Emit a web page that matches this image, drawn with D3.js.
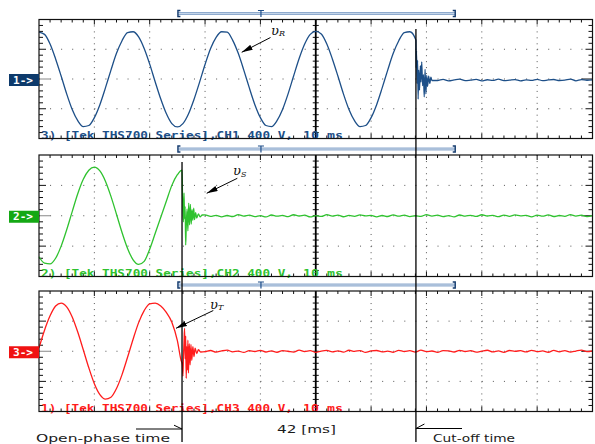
<!DOCTYPE html>
<meta charset="utf-8">
<head>
  <style>
    body { margin: 0; background: #fff; }
    svg { display: block; background: #fff; }
    .frame { fill: none; stroke: #111; stroke-width: 1.2px; }
    .tick { stroke: #111; stroke-width: 1px; }
    .dots { stroke: #555; stroke-width: 1px; fill: none; }
    .axis50 { stroke: #000; stroke-width: 1.8px; }
    .trace { fill: none; stroke-width: 1.3px; stroke-linejoin: round; }
    .scopeText { font-family: "DejaVu Sans Mono", monospace; font-weight: bold; font-size: 10.5px; }
    .note { font-family: "DejaVu Sans", sans-serif; font-size: 10.5px; fill: #1a1a1a; }
    .event { stroke: #000; stroke-width: 1.3px; }
  </style>
  <script src="https://cdn.jsdelivr.net/npm/d3@7"></script>
</head>
<body>
<script>
  var timeDomain = [0, 100];          // ms (10 ms/div)
  var voltDomain = [-800, 800];       // V  (400 V/div)
  var sampleMs = 1;

  var channelLabels = ["1->", "2->", "3->"];
  var channelNames = ["CH1", "CH2", "CH3"];
  var sourceTags = ["3)", "2)", "1)"];
  var phaseNames = ["R", "S", "T"];

  // R phase, t = 0..68 ms
  var waveR = [630, 600, 470, 270, 40, -200, -410, -560, -640, -625,
               -520, -345, -120, 120, 345, 515, 625, 635, 565, 410,
               200, -40, -270, -465, -600, -645, -600, -470, -275, -45,
               195, 410, 560, 635, 630, 520, 345, 120, -120, -345,
               -520, -625, -640, -560, -410, -200, 40, 275, 470, 600,
               640, 605, 470, 270, 40, -200, -410, -560, -640, -625,
               -520, -345, -120, 120, 345, 515, 625, 635, 540];
  var burstR = [[68.1, 520], [68.15, 150], [68.2, 380], [68.3, -60], [68.4, 250], [68.5, -270],
                [68.6, 120], [68.75, -150], [68.9, 180], [69.0, -40], [69.15, 230], [69.3, -90],
                [69.45, 60], [69.6, -240], [69.75, 130], [69.9, -200], [70.05, 50], [70.2, -100],
                [70.4, 40], [70.6, -60], [70.8, 25], [71.0, -20]];
  var flatStartR = 72;
  var noiseR = [-20, -5, -24, -12, -2, -22, -14, -6, -26, -10, -18, -3, -21, -15, -8,
                -25, -11, -19, -4, -23, -13, -7, -20, -16, -2, -24, -9, -17, -12];

  // S phase, t = 0..25 ms
  var waveS = [-540, -625, -635, -560, -400, -185, 55, 290, 480, 600,
               640, 590, 455, 255, 20, -220, -430, -580, -640, -600,
               -440, -230, -20, 190, 400, 540];
  var burstS = [[25.84, 600], [25.9, 380], [26.0, 60], [26.1, -80], [26.2, 300], [26.3, -40],
                [26.4, 120], [26.5, -386], [26.6, -150], [26.75, 90], [26.9, -200], [27.05, 167],
                [27.2, -120], [27.35, 150], [27.5, -110], [27.65, 80], [27.8, -60], [27.95, 100],
                [28.1, -50], [28.3, 40], [28.5, -30], [28.8, 25], [29.1, -15], [29.5, 10]];
  var flatStartS = 30;
  var noiseS = [12, -8, 6, -14, 3, -10, 15, -5, 8, -12, 2, -16, 10, -6, 4, -11, 13, -3, 7, -15,
                1, -9, 14, -4, 9, -13, 5, -7, 11, -2, 6, -14, 3, -10, 12, -6, 8, -12, 0, -8,
                15, -4, 7, -11, 2, -15, 10, -5, 6, -9, 13, -3, 4, -12, 9, -7, 11, -1, 5, -14,
                8, -6, 12, -10, 3, -8, 14, -4, 7, -11, 2];

  // T phase, t = 0..25 ms
  var waveT = [45, 280, 470, 600, 640, 590, 455, 255, 20, -220,
               -430, -575, -635, -610, -495, -310, -80, 160, 380, 540,
               630, 638, 600, 515, 385, 140];
  var burstT = [[25.65, -116], [25.9, -180], [26.0, -330], [26.1, -60], [26.2, 120], [26.3, 305],
                [26.4, -100], [26.5, 200], [26.6, -359], [26.7, 60], [26.8, -250], [26.9, 149],
                [27.0, -289], [27.15, 100], [27.3, -180], [27.45, 90], [27.6, -120], [27.8, 60],
                [28.0, -72], [28.2, 40], [28.5, -30], [28.8, 20], [29.2, -10]];
  var flatStartT = 30;
  var noiseT = [-6, 10, -12, 4, 14, -8, 2, -15, 9, -3, 12, -10, 5, -13, 8, 0, -11, 15, -5, 7,
                -14, 3, 11, -7, 6, -12, 13, -2, 9, -16, 4, 10, -9, 1, -13, 12, -4, 8, -11, 14,
                -6, 3, -15, 9, 5, -10, 11, -3, 7, -12, 2, 13, -8, 6, -14, 10, -1, 8, -9, 12,
                -5, 4, -13, 11, -7, 9, -11, 3, 14, -6, 5];

  // cursors and events (ms)
  var cursorBar = [25.1, 40.1, 75.2];     // [ left, T marker, right ]
  var openPhaseMs = 25.84;
  var cutOffMs = 68.1;
  var intervalLabel = "42 [ms]";

  // ---- layout ----
  var width = 595, height = 444;
  var panelBoxes = [{top: 19.5, h: 119}, {top: 155, h: 121.5}, {top: 291, h: 120.5}];
  var traceColors = ["#1d4f88", "#2fc22f", "#ff1c1c"];
  var boxColors = ["#0d3a6b", "#14a814", "#f01212"];

  function series(wave, burst, flatStart, noise) {
    return wave.map(function(v, i) { return [i * sampleMs, v]; })
      .concat(burst)
      .concat(noise.map(function(v, i) { return [flatStart + i * sampleMs, v]; }));
  }
  var traces = [
    series(waveR, burstR, flatStartR, noiseR),
    series(waveS, burstS, flatStartS, noiseS),
    series(waveT, burstT, flatStartT, noiseT)
  ];

  var svg = d3.select("body").append("svg").attr("width", width).attr("height", height);
  var defs = svg.append("defs");
  defs.append("marker").attr("id", "ah")
      .attr("viewBox", "0 0 12 6").attr("refX", 12).attr("refY", 3)
      .attr("markerWidth", 11).attr("markerHeight", 6)
      .attr("markerUnits", "userSpaceOnUse").attr("orient", "auto")
    .append("path").attr("d", "M0,0L12,3L0,6Z").attr("fill", "#000");

  var x = d3.scaleLinear().domain(timeDomain).range([39, 592.5]);
  var majorT = d3.range(timeDomain[0], timeDomain[1] + 1, 10);
  var minorT = d3.range(timeDomain[0], timeDomain[1] + 1, 2);
  var majorV = d3.range(voltDomain[0], voltDomain[1] + 1, 400);
  var minorV = d3.range(voltDomain[0], voltDomain[1] + 1, 80);

  panelBoxes.forEach(function(p, k) {
    var y = d3.scaleLinear().domain(voltDomain).range([p.top + p.h, p.top]);
    var g = svg.append("g");
    var left = x.range()[0], right = x.range()[1], top = p.top, bottom = p.top + p.h;
    var minorYpx = p.h / 20, minorXpx = (right - left) / 50;

    // dotted graticule
    g.selectAll(".vdots").data(majorT.filter(function(t) { return t > 0 && t < 100 && t !== 50; }))
      .enter().append("line").attr("class", "dots")
      .attr("x1", x).attr("x2", x).attr("y1", top).attr("y2", bottom)
      .attr("stroke-dasharray", "1," + (minorYpx - 1));
    g.selectAll(".hdots").data(majorV.filter(function(v) { return v > -800 && v < 800; }))
      .enter().append("line").attr("class", "dots")
      .attr("x1", left).attr("x2", right).attr("y1", y).attr("y2", y)
      .attr("stroke-dasharray", "1," + (minorXpx - 1));

    // border ticks
    minorT.filter(function(t) { return t > 0 && t < 100; }).forEach(function(t) {
      var len = t % 10 === 0 ? 5 : 3;
      g.append("line").attr("class", "tick").attr("x1", x(t)).attr("x2", x(t)).attr("y1", top).attr("y2", top + len);
      g.append("line").attr("class", "tick").attr("x1", x(t)).attr("x2", x(t)).attr("y1", bottom).attr("y2", bottom - len);
    });
    minorV.filter(function(v) { return v > -800 && v < 800; }).forEach(function(v) {
      var len = v === 0 ? 11 : (v % 400 === 0 ? 7 : 4);
      g.append("line").attr("class", "tick").attr("x1", left).attr("x2", left + len).attr("y1", y(v)).attr("y2", y(v))
        .style("stroke", v === 0 ? "#888" : null);
      g.append("line").attr("class", "tick").attr("x1", right).attr("x2", right - len).attr("y1", y(v)).attr("y2", y(v));
      g.append("line").attr("class", "tick").attr("x1", x(50) - 3).attr("x2", x(50) + 3).attr("y1", y(v)).attr("y2", y(v));
    });
    g.append("line").attr("class", "axis50").attr("x1", x(50)).attr("x2", x(50)).attr("y1", top).attr("y2", bottom);

    // trace
    g.append("path").datum(traces[k]).attr("class", "trace").attr("stroke", traceColors[k])
      .attr("d", d3.line().x(function(d) { return x(d[0]); }).y(function(d) { return y(d[1]); }).curve(d3.curveMonotoneX));

    // scope footer text
    g.append("text").attr("class", "scopeText").attr("fill", traceColors[k])
      .attr("x", 41).attr("y", bottom + 0.5).attr("textLength", 252).attr("lengthAdjust", "spacingAndGlyphs")
      .text(sourceTags[k] + " [Tek THS700 Series]," + channelNames[k] + "  400 V,");
    g.append("text").attr("class", "scopeText").attr("fill", traceColors[k])
      .attr("x", 303).attr("y", bottom + 0.5).attr("textLength", 40).attr("lengthAdjust", "spacingAndGlyphs")
      .text("10 ms");

    g.append("rect").attr("class", "frame").attr("x", left).attr("y", top).attr("width", right - left).attr("height", p.h);

    // channel marker
    g.append("rect").attr("x", 9).attr("y", y(0) - 5).attr("width", 30).attr("height", 12).attr("fill", boxColors[k]);
    g.append("text").attr("class", "scopeText").attr("fill", "#fff")
      .attr("x", 13).attr("y", y(0) + 4.5).attr("textLength", 20).attr("lengthAdjust", "spacingAndGlyphs")
      .text(channelLabels[k]);

    // cursor bar
    var cy = top - 6;
    var bar = svg.append("g").attr("fill", "none");
    bar.append("line").attr("x1", x(cursorBar[0])).attr("x2", x(cursorBar[2])).attr("y1", cy).attr("y2", cy)
      .attr("stroke", "#8eaacd").attr("stroke-width", 3);
    bar.append("line").attr("x1", x(cursorBar[0])).attr("x2", x(cursorBar[2])).attr("y1", cy).attr("y2", cy)
      .attr("stroke", "#c3d4e8").attr("stroke-width", 1.2);
    bar.append("path").attr("stroke", "#143b6e").attr("stroke-width", 1.4)
      .attr("d", "M" + (x(cursorBar[0]) + 2.5) + "," + (cy - 3) + "H" + x(cursorBar[0]) + "V" + (cy + 3) + "H" + (x(cursorBar[0]) + 2.5));
    bar.append("path").attr("stroke", "#143b6e").attr("stroke-width", 1.4)
      .attr("d", "M" + (x(cursorBar[2]) - 2.5) + "," + (cy - 3) + "H" + x(cursorBar[2]) + "V" + (cy + 3) + "H" + (x(cursorBar[2]) - 2.5));
    bar.append("path").attr("stroke", "#1f4f8a").attr("stroke-width", 1.2)
      .attr("d", "M" + (x(cursorBar[1]) - 3) + "," + (cy - 3) + "H" + (x(cursorBar[1]) + 3) + "M" + x(cursorBar[1]) + "," + (cy - 3) + "V" + (cy + 3.5));
  });

  // event lines
  svg.append("line").attr("class", "event").attr("x1", x(openPhaseMs)).attr("x2", x(openPhaseMs))
    .attr("y1", panelBoxes[1].top + 7).attr("y2", 442);
  svg.append("line").attr("class", "event").attr("x1", x(cutOffMs)).attr("x2", x(cutOffMs))
    .attr("y1", panelBoxes[0].top + 9.5).attr("y2", 442);

  // bottom notes
  svg.append("path").attr("fill", "none").attr("stroke", "#000").attr("stroke-width", 1)
    .attr("d", "M136,429H" + x(openPhaseMs) + "L" + (x(openPhaseMs) - 8) + ",425.2");
  svg.append("path").attr("fill", "none").attr("stroke", "#000").attr("stroke-width", 1)
    .attr("d", "M462,428.5H" + x(cutOffMs) + "L" + (x(cutOffMs) + 8.5) + ",424");
  svg.append("text").attr("class", "note").attr("x", 36).attr("y", 441.5)
    .attr("textLength", 134).attr("lengthAdjust", "spacingAndGlyphs").text("Open-phase time");
  svg.append("text").attr("class", "note").attr("x", 433).attr("y", 441.5)
    .attr("textLength", 82).attr("lengthAdjust", "spacingAndGlyphs").text("Cut-off time");
  svg.append("text").attr("class", "note").attr("x", 277).attr("y", 433)
    .attr("textLength", 59).attr("lengthAdjust", "spacingAndGlyphs").text(intervalLabel);

  // phase annotations
  var notes = [
    {tx: 271, ty: 34.5, from: [270.5, 37.5], to: [241.7, 52.3]},
    {tx: 233, ty: 175, from: [237.3, 178.3], to: [206.7, 193.3]},
    {tx: 210, ty: 308.5, from: [213.3, 310.5], to: [176, 328.3]}
  ];
  notes.forEach(function(n, k) {
    svg.append("line").attr("x1", n.from[0]).attr("y1", n.from[1]).attr("x2", n.to[0]).attr("y2", n.to[1])
      .attr("stroke", "#000").attr("stroke-width", 1).attr("marker-end", "url(#ah)");
    var t = svg.append("text").attr("x", n.tx).attr("y", n.ty)
      .attr("font-family", "DejaVu Serif, serif").attr("font-style", "italic").attr("fill", "#111");
    t.append("tspan").attr("font-size", 13).text("\u03c5");
    t.append("tspan").attr("font-size", 8).attr("dy", 1.5).text(phaseNames[k]);
  });
</script>
</body>
